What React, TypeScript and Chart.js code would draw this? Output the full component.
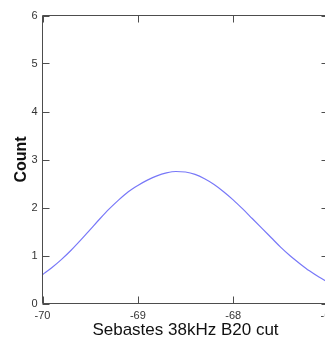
import React, { useEffect, useRef } from "react";
import { Chart, registerables } from "chart.js";

Chart.register(...registerables);

const xValues = [
  -70.0, -69.9, -69.8, -69.7, -69.6, -69.5, -69.4, -69.3, -69.2, -69.1, -69.0,
  -68.9, -68.8, -68.7, -68.6, -68.5, -68.4, -68.3, -68.2, -68.1, -68.0,
  -67.9, -67.8, -67.7, -67.6, -67.5, -67.4, -67.3, -67.2, -67.1, -67.0,
];
const countValues = [
  0.6, 0.75, 0.92, 1.11, 1.32, 1.54, 1.76, 1.97, 2.16, 2.33, 2.46,
  2.57, 2.66, 2.72, 2.75, 2.74, 2.69, 2.6, 2.48, 2.33, 2.16,
  1.97, 1.77, 1.57, 1.37, 1.17, 0.99, 0.83, 0.68, 0.55, 0.44,
];
const xTicks = [-70, -69, -68, -67];
const yTicks = [0, 1, 2, 3, 4, 5, 6];
const xTitle = "Sebastes 38kHz B20 cut";
const yTitle = "Count";

const AXIS_COLOR = "#4d4d4d";
const TICK_LEN = 7;

const framePlugin = {
  id: "frame",
  afterDraw(chart: any) {
    const { ctx, chartArea } = chart;
    const xs = chart.scales.x;
    const ys = chart.scales.y;
    const { left, right, top, bottom } = chartArea;
    ctx.save();
    ctx.strokeStyle = AXIS_COLOR;
    ctx.lineWidth = 1;
    ctx.beginPath();
    ctx.moveTo(left, top);
    ctx.lineTo(right, top);
    ctx.lineTo(right, bottom);
    ctx.lineTo(left, bottom);
    ctx.lineTo(left, top);
    xTicks.forEach((v) => {
      const px = Math.round(xs.getPixelForValue(v)) + 0.5;
      ctx.moveTo(px, bottom);
      ctx.lineTo(px, bottom - TICK_LEN);
      ctx.moveTo(px, top);
      ctx.lineTo(px, top + TICK_LEN);
    });
    yTicks.forEach((v) => {
      const py = Math.round(ys.getPixelForValue(v)) + 0.5;
      ctx.moveTo(left, py);
      ctx.lineTo(left + TICK_LEN, py);
      ctx.moveTo(right, py);
      ctx.lineTo(right - TICK_LEN, py);
    });
    ctx.stroke();
    ctx.restore();
  },
};

export default function App() {
  const ref = useRef<HTMLCanvasElement | null>(null);

  useEffect(() => {
    if (!ref.current) return;
    const chart = new Chart(ref.current, {
      type: "line",
      data: {
        datasets: [
          {
            data: xValues.map((x, i) => ({ x, y: countValues[i] })),
            borderColor: "#7878f8",
            borderWidth: 1.2,
            pointRadius: 0,
            cubicInterpolationMode: "monotone",
            fill: false,
          },
        ],
      },
      options: {
        animation: false,
        responsive: false,
        devicePixelRatio: 1,
        layout: { padding: { top: 15.5, right: 16.5, left: 0, bottom: 0 } },
        plugins: {
          legend: { display: false },
          tooltip: { enabled: false },
        },
        scales: {
          x: {
            type: "linear",
            min: -70,
            max: -67,
            afterBuildTicks: (s: any) => {
              s.ticks = xTicks.map((v) => ({ value: v }));
            },
            afterFit: (s: any) => {
              s.height = 37.5;
            },
            grid: { display: false, drawTicks: false },
            border: { display: false },
            ticks: {
              color: "#333",
              padding: 6,
              maxRotation: 0,
              font: { family: "Liberation Sans, Arial, sans-serif", size: 11 },
            },
            title: {
              display: true,
              text: xTitle,
              color: "#111",
              padding: { top: 0, bottom: 0 },
              font: { family: "Liberation Sans, Arial, sans-serif", size: 17 },
            },
          },
          y: {
            type: "linear",
            min: 0,
            max: 6,
            afterBuildTicks: (s: any) => {
              s.ticks = yTicks.map((v) => ({ value: v }));
            },
            afterFit: (s: any) => {
              s.width = 42.5;
            },
            grid: { display: false, drawTicks: false },
            border: { display: false },
            ticks: {
              color: "#333",
              padding: 5,
              font: { family: "Liberation Sans, Arial, sans-serif", size: 11 },
            },
            title: {
              display: true,
              text: yTitle,
              color: "#111",
              padding: { top: 12, bottom: 0 },
              font: { family: "Liberation Sans, Arial, sans-serif", size: 16, weight: "bold" },
            },
          },
        },
      },
      plugins: [framePlugin],
    });
    return () => chart.destroy();
  }, []);

  return (
    <div
      style={{
        position: "fixed",
        left: 0,
        top: 0,
        width: 325,
        height: 341,
        overflow: "hidden",
        background: "#fff",
      }}
    >
      <canvas ref={ref} width={345} height={341} style={{ display: "block" }} />
    </div>
  );
}
